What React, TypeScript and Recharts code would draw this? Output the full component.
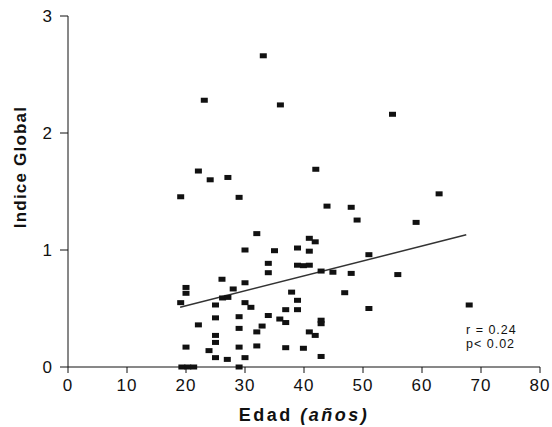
import { ScatterChart, Scatter, XAxis, YAxis, ReferenceLine, Label } from "recharts";

// edad (años) vs índice global
const EDAD = [
  33.1, 23.1, 36.0, 55.0, 22.1, 24.1, 27.1, 42.0, 19.1, 29.0,
  62.9, 48.0, 49.0, 59.0, 43.9, 32.0, 40.9, 41.9, 40.9, 38.9,
  35.0, 30.0, 39.9, 40.9, 38.9, 42.9, 44.9, 48.0, 51.0, 55.9,
  46.9, 51.0, 68.0, 42.9, 42.9, 40.9, 41.9, 39.9, 42.9, 33.95,
  33.95, 37.9, 38.9, 38.9, 36.9, 33.95, 35.9, 36.9, 32.9, 32.0,
  32.0, 36.9, 26.1, 30.0, 20.0, 20.0, 28.0, 19.1, 26.2, 27.1,
  25.0, 30.0, 31.0, 25.0, 29.0, 22.1, 29.0, 25.0, 25.0, 20.0,
  29.0, 23.9, 25.0, 27.0, 30.0, 19.3, 20.3, 21.3, 29.0,
];
const INDICE = [
  2.66, 2.28, 2.24, 2.16, 1.675, 1.6, 1.62, 1.69, 1.455, 1.45,
  1.48, 1.365, 1.256, 1.236, 1.375, 1.14, 1.1, 1.07, 0.99, 1.017,
  0.994, 1.0, 0.866, 0.87, 0.87, 0.82, 0.81, 0.8, 0.96, 0.79,
  0.635, 0.5, 0.53, 0.4, 0.37, 0.3, 0.27, 0.16, 0.09, 0.886,
  0.806, 0.64, 0.57, 0.49, 0.49, 0.44, 0.41, 0.38, 0.35, 0.3,
  0.18, 0.165, 0.75, 0.72, 0.68, 0.63, 0.667, 0.55, 0.59, 0.595,
  0.53, 0.55, 0.51, 0.42, 0.43, 0.36, 0.33, 0.27, 0.21, 0.17,
  0.17, 0.14, 0.08, 0.065, 0.08, 0, 0, 0, 0,
];
const X_TICKS = [0, 10, 20, 30, 40, 50, 60, 70, 80];
const Y_TICKS = [0, 1, 2, 3];
const REG_X = [19, 67.5];
const REG_Y = [0.51, 1.13];

const FONT = "'Liberation Sans', Arial, Helvetica, sans-serif";
const INK = "#111";

const points = EDAD.map((x, i) => ({ x, y: INDICE[i] }));

const Marker = (props: any) => (
  <rect x={props.cx - 3.5} y={props.cy - 2.5} width={7} height={5} fill={INK} />
);

export default function App() {
  return (
    <div style={{ position: "absolute", left: 0, top: 0, width: 552, height: 427, background: "#fff" }}>
      <ScatterChart width={552} height={427} margin={{ top: 16, right: 12, bottom: 0, left: 0 }}>
        <XAxis
          type="number"
          dataKey="x"
          domain={[0, 80]}
          ticks={X_TICKS}
          height={60}
          tickSize={6}
          tickMargin={6}
          stroke={INK}
          tick={{ fill: INK, fontSize: 17, fontFamily: FONT, letterSpacing: 1 }}
        >
          <Label
            content={({ viewBox }: any) => (
              <text
                x={viewBox.x + viewBox.width / 2}
                y={421}
                textAnchor="middle"
                fill={INK}
                fontFamily={FONT}
                fontSize={18}
                fontWeight="bold"
                letterSpacing={2.5}
              >
                Edad <tspan fontStyle="italic">(años)</tspan>
              </text>
            )}
          />
        </XAxis>
        <YAxis
          type="number"
          dataKey="y"
          domain={[0, 3]}
          ticks={Y_TICKS}
          width={68}
          tickSize={8}
          tickMargin={8}
          stroke={INK}
          tick={{ fill: INK, fontSize: 17, fontFamily: FONT }}
        >
          <Label
            content={() => (
              <text
                x={26}
                y={167}
                transform="rotate(-90 26 167)"
                textAnchor="middle"
                fill={INK}
                fontFamily={FONT}
                fontSize={17}
                fontWeight="bold"
                letterSpacing={1.2}
              >
                Indice Global
              </text>
            )}
          />
        </YAxis>
        <ReferenceLine
          segment={[
            { x: REG_X[0], y: REG_Y[0] },
            { x: REG_X[1], y: REG_Y[1] },
          ]}
          stroke="#333"
          strokeWidth={1.5}
          ifOverflow="visible"
        />
        <Scatter data={points} shape={Marker} isAnimationActive={false} />
      </ScatterChart>
      <div
        style={{
          position: "absolute",
          left: 466,
          top: 323,
          fontFamily: FONT,
          fontSize: 12.5,
          lineHeight: "14px",
          letterSpacing: 1,
          color: INK,
        }}
      >
        <div>r = 0.24</div>
        <div>p&lt; 0.02</div>
      </div>
    </div>
  );
}
